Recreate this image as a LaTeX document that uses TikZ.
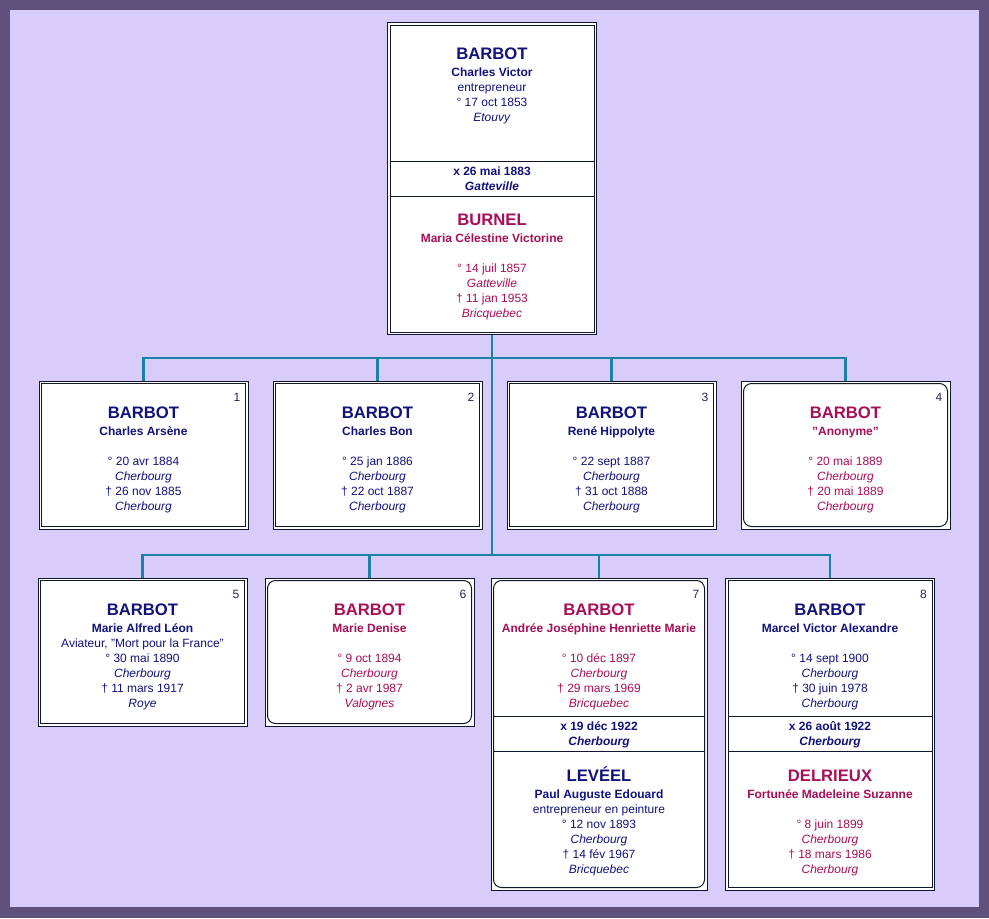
\documentclass[tikz,border=0pt]{standalone}
\usepackage{fontspec}
\setmainfont{Liberation Sans}
\usepackage{tikz}
\usetikzlibrary{calc}
\newcommand{\famname}[1]{{\fontsize{12.5}{15}\selectfont\bfseries\rule{0pt}{12pt}#1}}
\newcommand{\givname}[1]{{\bfseries #1}}
\newcommand{\wed}[2]{\rule{0pt}{8pt}\textbf{x #1}\\\textbf{\textit{#2}}}
\newcommand{\dq}{\symbol{34}}
\begin{document}
\begin{tikzpicture}[x=0.75pt,y=-0.75pt,font=\fontsize{9}{11.25}\selectfont,
    box/.style={draw=edgec, fill=white, line width=0.75pt, inner sep=0pt, minimum width=156.75pt},
    single/.style={box, minimum height=111pt},
    couple/.style={box, minimum height=234pt},
    wall/.style={draw=edgec, line width=0.75pt},
    link/.style={draw=linkc, line width=1.6pt},
    info/.style={anchor=north, align=center, inner sep=0pt},
    num/.style={anchor=base east, inner sep=0pt, text=numc}]
    \definecolor{framec}{RGB}{96,80,124}
    \definecolor{paperc}{RGB}{216,204,250}
    \definecolor{edgec}{RGB}{16,22,44}
    \definecolor{linkc}{RGB}{30,130,168}
    \definecolor{malec}{RGB}{18,18,122}
    \definecolor{femalec}{RGB}{166,16,86}
    \definecolor{numc}{RGB}{36,36,96}
    %frame
    \fill[framec] (0,0) rectangle (989,918);
    \fill[paperc] (10,10) rectangle (979,907);
    %boxes
    \node[couple] (top) at (492,178.5) {};
    \node[single] (c1) at (143.5,455) {};
    \node[single] (c2) at (377.5,455) {};
    \node[single] (c3) at (611.5,455) {};
    \node[single] (c4) at (845.5,455) {};
    \node[single] (c5) at (142.5,652) {};
    \node[single] (c6) at (369.5,652) {};
    \node[couple, minimum width=162pt] (c7) at (599,734) {};
    \node[couple] (c8) at (830,734) {};
    %inner lines
    \foreach \b in {top,c1,c2,c3,c5,c8}
        \draw[wall] ([shift={(3,3)}]\b.north west) rectangle ([shift={(-3,-3)}]\b.south east);
    \foreach \b in {c4,c6,c7}
        \draw[wall, rounded corners=6pt] ([shift={(3,3)}]\b.north west) rectangle ([shift={(-3,-3)}]\b.south east);
    \foreach \b in {top,c7,c8} {
        \draw[wall] ([shift={(3,139)}]\b.north west) -- ([shift={(-3,139)}]\b.north east);
        \draw[wall] ([shift={(3,174)}]\b.north west) -- ([shift={(-3,174)}]\b.north east);
    }
    %links
    \coordinate (bus1) at (492,358);
    \coordinate (bus2) at (492,555);
    \draw[link] (top.south) -- (bus2);
    \foreach \c in {c1,c2,c3,c4}
        \draw[link] (\c.north) |- (bus1);
    \foreach \c in {c5,c6,c7,c8}
        \draw[link] (\c.north) |- (bus2);
    %numbers
    \foreach \c/\n in {c1/1,c2/2,c3/3,c4/4,c5/5,c6/6,c7/7,c8/8}
        \node[num] (n\n) at ([shift={(-8,21)}]\c.north east) {\n};
    %texts
    \node[info, text=malec] (top-a) at ([shift={(0,21.5)}]top.north) {\famname{BARBOT}\\[1.5pt]\givname{Charles Victor}\\entrepreneur\\° 17 oct 1853\\\textit{Etouvy}};
    \node[info, text=malec] (top-m) at ([shift={(0,142.3)}]top.north) {\wed{26 mai 1883}{Gatteville}};
    \node[info, text=femalec] (top-b) at ([shift={(0,187.5)}]top.north) {\famname{BURNEL}\\[1.5pt]\givname{Maria Célestine Victorine}\\[11.25pt]° 14 juil 1857\\\textit{Gatteville}\\† 11 jan 1953\\\textit{Bricquebec}};
    \node[info, text=malec] (c1-a) at ([shift={(0,21.5)}]c1.north) {\famname{BARBOT}\\[1.5pt]\givname{Charles Arsène}\\[11.25pt]° 20 avr 1884\\\textit{Cherbourg}\\† 26 nov 1885\\\textit{Cherbourg}};
    \node[info, text=malec] (c2-a) at ([shift={(0,21.5)}]c2.north) {\famname{BARBOT}\\[1.5pt]\givname{Charles Bon}\\[11.25pt]° 25 jan 1886\\\textit{Cherbourg}\\† 22 oct 1887\\\textit{Cherbourg}};
    \node[info, text=malec] (c3-a) at ([shift={(0,21.5)}]c3.north) {\famname{BARBOT}\\[1.5pt]\givname{René Hippolyte}\\[11.25pt]° 22 sept 1887\\\textit{Cherbourg}\\† 31 oct 1888\\\textit{Cherbourg}};
    \node[info, text=femalec] (c4-a) at ([shift={(0,21.5)}]c4.north) {\famname{BARBOT}\\[1.5pt]\givname{\dq Anonyme\dq}\\[11.25pt]° 20 mai 1889\\\textit{Cherbourg}\\† 20 mai 1889\\\textit{Cherbourg}};
    \node[info, text=malec] (c5-a) at ([shift={(0,21.5)}]c5.north) {\famname{BARBOT}\\[1.5pt]\givname{Marie Alfred Léon}\\Aviateur, \dq Mort pour la France\dq\\° 30 mai 1890\\\textit{Cherbourg}\\† 11 mars 1917\\\textit{Roye}};
    \node[info, text=femalec] (c6-a) at ([shift={(0,21.5)}]c6.north) {\famname{BARBOT}\\[1.5pt]\givname{Marie Denise}\\[11.25pt]° 9 oct 1894\\\textit{Cherbourg}\\† 2 avr 1987\\\textit{Valognes}};
    \node[info, text=femalec] (c7-a) at ([shift={(0,21.5)}]c7.north) {\famname{BARBOT}\\[1.5pt]\givname{Andrée Joséphine Henriette Marie}\\[11.25pt]° 10 déc 1897\\\textit{Cherbourg}\\† 29 mars 1969\\\textit{Bricquebec}};
    \node[info, text=malec] (c7-m) at ([shift={(0,142.3)}]c7.north) {\wed{19 déc 1922}{Cherbourg}};
    \node[info, text=malec] (c7-b) at ([shift={(0,187.5)}]c7.north) {\famname{LEVÉEL}\\[1.5pt]\givname{Paul Auguste Edouard}\\entrepreneur en peinture\\° 12 nov 1893\\\textit{Cherbourg}\\† 14 fév 1967\\\textit{Bricquebec}};
    \node[info, text=malec] (c8-a) at ([shift={(0,21.5)}]c8.north) {\famname{BARBOT}\\[1.5pt]\givname{Marcel Victor Alexandre}\\[11.25pt]° 14 sept 1900\\\textit{Cherbourg}\\† 30 juin 1978\\\textit{Cherbourg}};
    \node[info, text=malec] (c8-m) at ([shift={(0,142.3)}]c8.north) {\wed{26 août 1922}{Cherbourg}};
    \node[info, text=femalec] (c8-b) at ([shift={(0,187.5)}]c8.north) {\famname{DELRIEUX}\\[1.5pt]\givname{Fortunée Madeleine Suzanne}\\[11.25pt]° 8 juin 1899\\\textit{Cherbourg}\\† 18 mars 1986\\\textit{Cherbourg}};
\end{tikzpicture}
\end{document}
